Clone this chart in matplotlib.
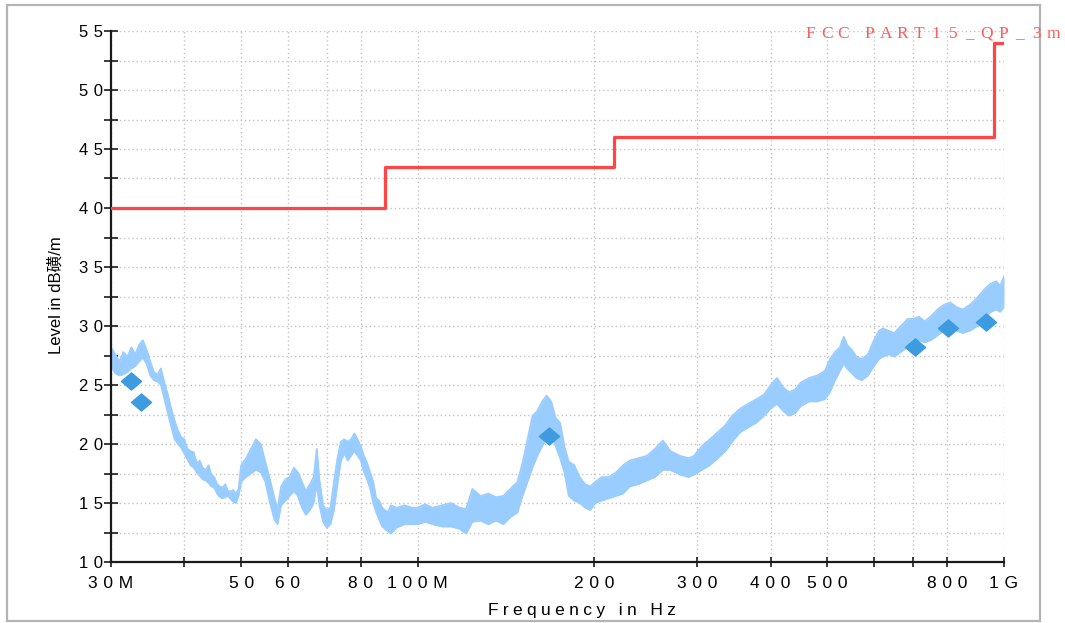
import numpy as np
import matplotlib
matplotlib.use("Agg")
import matplotlib.pyplot as plt
from matplotlib.patches import Rectangle
from matplotlib.path import Path

plt.rcParams['font.family'] = ['Liberation Sans', 'Noto Sans CJK SC', 'DejaVu Sans']

# -----------------------------
# scan data (MHz, dBuV/m)
# -----------------------------
scan_freq = [30.0, 30.5, 31.0, 31.5, 32.0, 32.5, 33.0, 33.5, 34.0, 34.5,
             35.0, 35.5, 36.0, 36.5, 37.0, 37.5, 38.0, 38.5, 39.0, 39.5,
             40.0, 40.5, 41.0, 41.5, 42.0, 42.5, 43.0, 43.5, 44.0, 44.5,
             45.0, 45.5, 46.0, 46.5, 47.0, 47.5, 48.0, 48.5, 49.0, 49.5,
             50.0, 51.0, 52.0, 53.0, 54.0, 55.0, 56.0, 57.0, 57.7, 58.5,
             59.5, 60.5, 61.5, 62.5, 63.5, 64.5, 65.5, 66.5, 67.3, 68.0,
             69.0, 70.0, 71.0, 72.0, 73.0, 74.0, 75.0, 76.0, 77.0, 78.0,
             79.0, 80.0, 81.0, 82.0, 83.0, 84.0, 85.0, 86.0, 87.0, 88.0,
             89.0, 90.0, 92.0, 95.0, 98.0, 100, 103, 106, 110, 114,
             118, 121, 124, 128, 132, 136, 140, 144, 148, 151,
             154, 157, 160, 163, 166, 169, 172, 175, 178, 181,
             185, 189, 193, 197, 201, 206, 212, 218, 224, 230,
             238, 246, 254, 262, 270, 280, 290, 296, 305, 315,
             325, 335, 344, 355, 366, 378, 390, 400, 410, 420,
             430, 440, 450, 465, 480, 495, 505, 515, 525, 533,
             540, 550, 560, 572, 586, 600, 612, 622, 635, 650,
             667, 685, 700, 716, 732, 750, 770, 790, 810, 830,
             850, 875, 900, 930, 950, 970, 985, 1000]
scan_low = [26.6, 26.0, 25.8, 25.9, 26.1, 26.4, 26.6, 27.0, 27.3, 26.8,
            25.8, 25.4, 25.3, 25.0, 23.8, 22.6, 21.5, 20.4, 20.0, 19.7,
            19.2, 18.7, 18.2, 18.0, 17.6, 17.3, 17.0, 16.9, 16.7, 16.4,
            16.3, 15.8, 15.5, 15.4, 15.5, 15.6, 15.3, 15.1, 15.0, 15.6,
            16.8, 17.2, 17.5, 17.8, 17.6, 16.8, 15.0, 13.6, 13.2, 14.8,
            15.2, 15.6, 16.0, 15.6, 14.6, 14.0, 14.4, 15.0, 16.6, 14.8,
            13.4, 12.9, 13.2, 14.4, 16.6, 18.6, 19.2, 18.6, 19.0, 19.4,
            19.0, 18.6, 17.6, 17.0, 16.2, 15.0, 14.2, 13.6, 13.0, 12.8,
            12.6, 12.4, 12.9, 13.2, 13.2, 13.2, 13.4, 13.2, 13.0, 13.0,
            12.8, 12.4, 13.4, 13.5, 13.2, 13.5, 13.2, 13.8, 14.2, 15.6,
            16.8, 18.0, 19.0, 19.8, 20.5, 20.8, 19.8, 18.8, 17.6, 15.6,
            15.2, 15.0, 14.6, 14.4, 15.0, 15.2, 15.4, 15.6, 15.8, 16.4,
            16.6, 16.9, 17.2, 17.8, 17.8, 17.4, 17.2, 17.4, 17.8, 18.2,
            18.8, 19.4, 20.2, 21.0, 21.4, 21.8, 22.4, 23.0, 23.4, 22.8,
            22.4, 22.6, 23.2, 23.6, 23.6, 23.8, 24.4, 25.4, 26.2, 26.8,
            26.4, 26.0, 25.6, 25.4, 25.8, 26.6, 27.2, 27.4, 27.6, 27.4,
            27.8, 28.2, 28.5, 28.8, 28.6, 28.8, 29.2, 29.6, 29.8, 29.6,
            29.4, 29.6, 30.0, 30.8, 31.2, 31.4, 31.2, 31.6]
scan_high = [28.2, 27.6, 27.0, 27.8, 27.4, 28.2, 27.6, 28.4, 28.8, 28.0,
             27.0, 26.1, 25.9, 26.4, 25.2, 24.2, 23.0, 22.0, 21.2, 20.6,
             20.4, 19.6, 19.4, 19.3, 18.4, 18.6, 18.0, 17.8, 18.2, 17.4,
             17.2, 16.6, 16.4, 16.3, 16.6, 16.0, 16.0, 16.1, 15.8, 16.2,
             18.2, 18.8, 19.6, 20.4, 20.0, 18.5, 17.0, 15.4, 14.5, 16.4,
             17.0, 17.2, 18.0, 17.6, 16.8, 16.0, 16.6, 17.2, 19.6, 17.0,
             14.8, 14.4, 14.6, 16.8, 18.8, 20.2, 20.4, 20.2, 20.4, 20.9,
             20.4, 19.8, 19.0, 18.4, 17.6, 16.8, 15.4, 15.2, 14.6, 14.4,
             14.2, 14.8, 14.6, 14.8, 14.6, 14.6, 14.9, 14.6, 14.8, 15.0,
             14.6, 14.5, 16.2, 15.6, 15.8, 15.5, 15.6, 16.2, 16.8, 18.4,
             20.4, 22.4, 22.8, 23.6, 24.1, 23.6, 22.2, 21.8, 19.8, 18.5,
             18.2, 17.2, 16.6, 16.4, 16.8, 17.2, 17.2, 17.6, 18.2, 18.6,
             18.8, 19.0, 19.6, 20.3, 19.4, 19.0, 18.8, 19.0, 19.8, 20.4,
             21.0, 21.6, 22.4, 23.0, 23.4, 23.8, 24.2, 25.0, 25.6, 24.8,
             24.4, 24.6, 25.2, 25.6, 25.8, 26.2, 27.2, 27.8, 28.2, 29.1,
             28.4, 28.0, 27.4, 27.2, 27.6, 28.8, 29.6, 29.8, 29.6, 29.4,
             30.0, 30.6, 30.6, 30.8, 30.4, 30.8, 31.4, 31.8, 32.0, 31.6,
             31.4, 31.8, 32.4, 33.2, 33.6, 33.8, 33.4, 34.2]

# final QP readings
peak_freq = [32.5, 33.7, 167.2, 704, 804, 933]
peak_level = [25.3, 23.6, 20.7, 28.25, 29.86, 30.36]

# FCC Part 15 class B, 3 m
limit_freq = [30, 88, 216, 960, 1000]
limit_level = [40, 43.5, 46, 54, 54]
limit_name = "FCC PART15_QP_3m"

x_ticks = [30, 40, 50, 60, 70, 80, 100, 200, 300, 400, 500, 600, 700, 800, 1000]
x_labels = ["30M", "", "50", "60", "", "80", "100M", "200", "300", "400", "500", "", "", "800", "1G"]
y_ticks = [10, 15, 20, 25, 30, 35, 40, 45, 50, 55]

W, H = 1065, 623


def spaced(s, sep="\u2009"):
    return sep.join(s)


fig = plt.figure(figsize=(W / 100, H / 100), dpi=100)
ax = fig.add_axes([111 / W, 1 - 562 / H, (1004 - 111) / W, (562 - 31) / H])

# trace band
ax.fill_between(scan_freq, scan_low, scan_high, color='#99ccff', lw=0, zorder=2)
ax.plot(scan_freq, scan_low, color='#99ccff', lw=1.2, zorder=2)
ax.plot(scan_freq, scan_high, color='#99ccff', lw=1.2, zorder=2)

# limit line
ax.plot(limit_freq, limit_level, drawstyle='steps-post', color='#ff4545', lw=2.3, zorder=3)

# QP markers (slightly flat diamond)
diamond = Path([(-1, 0), (0, 0.85), (1, 0), (0, -0.85), (-1, 0)],
               [Path.MOVETO, Path.LINETO, Path.LINETO, Path.LINETO, Path.CLOSEPOLY])
ax.plot(peak_freq, peak_level, ls='none', marker=diamond, ms=14.5,
        color='#3d9be0', mec='#3d9be0', zorder=4)

ax.set_xscale('log')
ax.set_xlim(30, 1000)
ax.set_ylim(10, 55)

ax.xaxis.set_major_locator(matplotlib.ticker.FixedLocator(x_ticks))
ax.xaxis.set_minor_locator(matplotlib.ticker.NullLocator())
ax.set_xticklabels([spaced(s, "\u2004") for s in x_labels])
ax.set_yticks(y_ticks)
ax.set_yticklabels([spaced(str(v), "\u2004") for v in y_ticks])
ax.yaxis.set_minor_locator(matplotlib.ticker.MultipleLocator(2.5))

for sp in ['top', 'right']:
    ax.spines[sp].set_visible(False)
for sp in ['left', 'bottom']:
    ax.spines[sp].set_linewidth(1.6)
    ax.spines[sp].set_color('#1a1a1a')

ax.tick_params(axis='y', which='both', direction='inout', length=9.5, width=1.2,
               color='#1a1a1a', pad=1, labelsize=12)
ax.tick_params(axis='x', which='both', direction='inout', length=7.5, width=1.2,
               color='#1a1a1a', pad=6, labelsize=12.5)

ax.grid(True, which='major', axis='x', ls=(0, (1, 2)), color='#c4c4c4', lw=1)
ax.grid(True, which='both', axis='y', ls=(0, (1, 2)), color='#c4c4c4', lw=1)
ax.set_axisbelow(True)

fig.text(56 / W, 1 - 295 / H, "Level in dB磺/m", rotation=90, ha='center', va='center',
         fontsize=12)
fig.text(582 / W, 1 - 610 / H, spaced("Frequency in Hz", "\u2005"), ha='center', va='center',
         fontsize=12.5)

# limit name, letter-spaced
x, pitch = 810, 16.7
for ch in limit_name:
    if ch == " ":
        x += pitch * 0.55
        continue
    fig.text(x / W, 1 - 34 / H, ch, ha='center', va='center',
             fontsize=12.5, color='#ff5c5c', family='Liberation Serif')
    x += pitch

# outer frame
fig.patches.append(Rectangle((7 / W, 1 - 621 / H), (1040 - 7) / W, (621 - 5) / H,
                             transform=fig.transFigure, fill=False, ec='#b4b4b4', lw=1.6))

fig.savefig("out.png", dpi=100)
